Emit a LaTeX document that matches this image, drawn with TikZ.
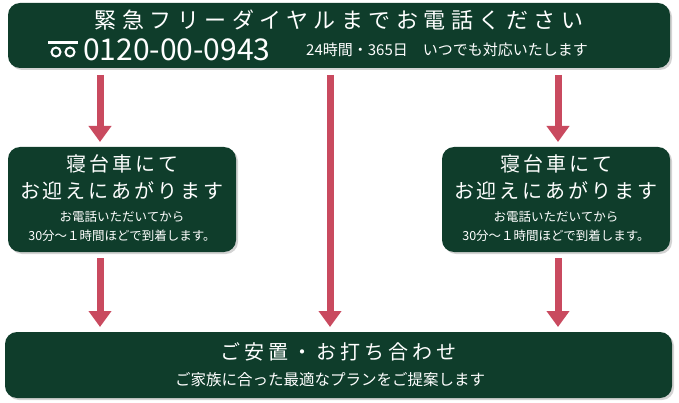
\documentclass[tikz,border=0pt]{standalone}
\usepackage{fontspec}
\setmainfont{Noto Sans CJK JP}
\usetikzlibrary{arrows.meta,shadows}
\definecolor{boxgreen}{HTML}{0F3D2B}
\definecolor{arrowred}{HTML}{C94A5F}
\begin{document}
\begin{tikzpicture}[x=1pt, y=-1pt, font=\color{white}]
			\tikzstyle{panel}=[fill=boxgreen, rounded corners=12pt, drop shadow={opacity=0.35, shadow xshift=2pt, shadow yshift=-2pt}]
			\tikzstyle{flow}=[-{Triangle[length=16pt, width=22pt]}, draw=arrowred, line width=7pt]
			\tikzstyle{big}=[inner sep=0pt, font=\fontsize{20}{27}\selectfont\addfontfeature{LetterSpace=15}\color{white}]
			\tikzstyle{small}=[inner sep=0pt, font=\fontsize{12.5}{19}\selectfont\color{white}]
			\useasboundingbox (0,0) rectangle (679,403);

			\path[panel] (8,3) rectangle (670,68);
			\path[panel] (8,147) rectangle (236,252);
			\path[panel] (442,147) rectangle (670,252);
			\path[panel] (5,332) rectangle (672,398);

			% top panel
			\node[big, font=\fontsize{22}{24}\selectfont\addfontfeature{LetterSpace=25}\color{white}] (title) at (339,20) {緊急フリーダイヤルまでお電話ください};
			\fill[white] (48,41) rectangle (78,44.5);
			\draw[white, line width=2pt] (56,52) circle (4.5pt) (70,52) circle (4.5pt);
			\node[inner sep=0pt, anchor=west, font=\fontsize{30}{32}\selectfont\color{white}] (tel) at (83,50) {0120-00-0943};
			\node[small, anchor=west, font=\fontsize{15}{17}\selectfont\color{white}] (hours) at (306,50) {24時間・365日　いつでも対応いたします};

			% side panels
			\node[big, align=center] (pickL) at (122,177) {寝台車にて\\お迎えにあがります};
			\node[small, align=center] (noteL) at (122,226) {お電話いただいてから\\30分～１時間ほどで到着します。};
			\node[big, align=center] (pickR) at (556,177) {寝台車にて\\お迎えにあがります};
			\node[small, align=center] (noteR) at (556,226) {お電話いただいてから\\30分～１時間ほどで到着します。};

			% bottom panel
			\node[big, font=\fontsize{20}{22}\selectfont\addfontfeature{LetterSpace=20}\color{white}] (rest) at (338,352) {ご安置・お打ち合わせ};
			\node[small, font=\fontsize{15.5}{17}\selectfont\color{white}] (plan) at (330,380) {ご家族に合った最適なプランをご提案します};

			\coordinate (a1) at (100,75);  \coordinate (a2) at (100,142);
			\coordinate (b1) at (330,75);  \coordinate (b2) at (330,327);
			\coordinate (c1) at (558,75);  \coordinate (c2) at (558,142);
			\coordinate (d1) at (100,258); \coordinate (d2) at (100,327);
			\coordinate (e1) at (558,258); \coordinate (e2) at (558,327);
			\draw[flow] (a1) -- (a2);
			\draw[flow] (b1) -- (b2);
			\draw[flow] (c1) -- (c2);
			\draw[flow] (d1) -- (d2);
			\draw[flow] (e1) -- (e2);
\end{tikzpicture}
\end{document}
